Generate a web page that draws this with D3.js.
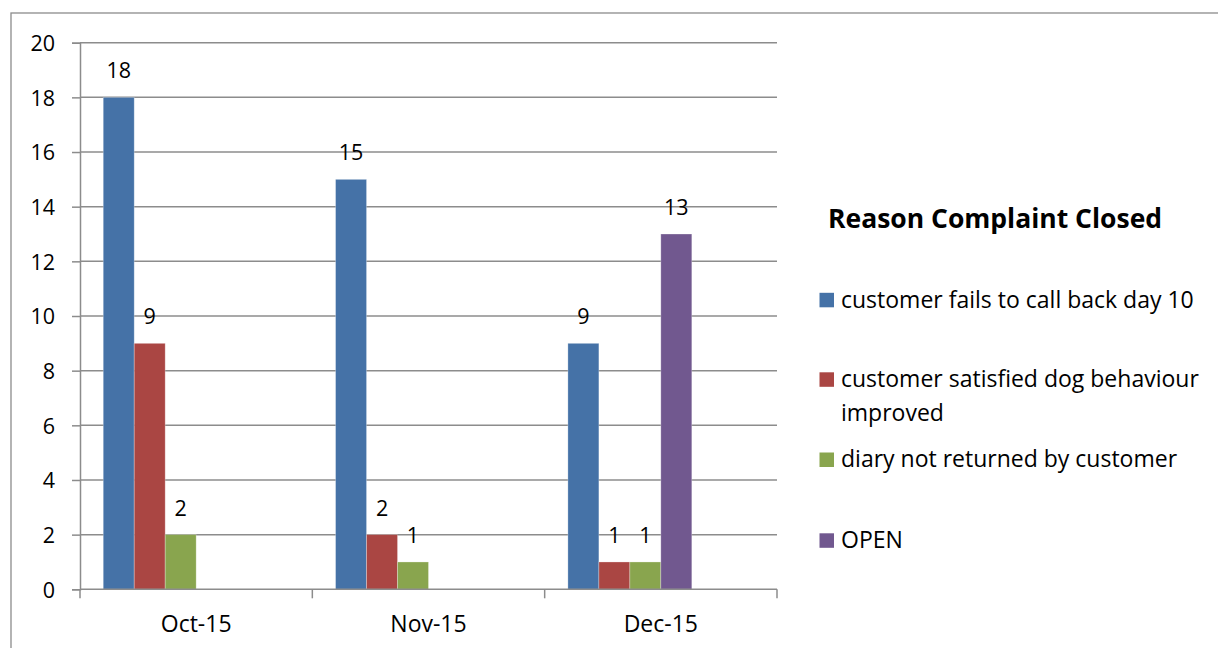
<!DOCTYPE html>
<html><head><meta charset="utf-8">
<script src="https://cdn.jsdelivr.net/npm/d3@7"></script>
<style>body{margin:0;background:#fff}svg{display:block}text{font-family:"Open Sans",sans-serif}</style>
</head><body>
<svg id="c" width="1218" height="648"></svg>
<script>
const categories = ["Oct-15", "Nov-15", "Dec-15"];
const seriesNames = ["customer fails to call back day 10", "customer satisfied dog behaviour improved", "diary not returned by customer", "OPEN"];
const seriesColors = ["#4572A7", "#AA4643", "#89A54E", "#71588F"];
const failsCallBack = [18, 15, 9];
const satisfiedImproved = [9, 2, 1];
const diaryNotReturned = [2, 1, 1];
const openCases = [null, null, 13];
const yTicks = [0, 2, 4, 6, 8, 10, 12, 14, 16, 18, 20];
const legendTitle = "Reason Complaint Closed";

const seriesValues = [failsCallBack, satisfiedImproved, diaryNotReturned, openCases];
const svg = d3.select("#c");
const L = 80, R = 777, T = 42.7, B = 589.3;
const grid = "#8c8c8c";
const FS_NUM = 21.5, FS_TXT = 23;

svg.append("rect").attr("x", 11).attr("y", 13).attr("width", 1240).attr("height", 680)
  .attr("fill", "none").attr("stroke", grid).attr("stroke-width", 1.3);

const y = d3.scaleLinear().domain([0, 20]).range([B, T]);
const x = d3.scaleBand().domain(categories).range([L, R]).padding(0);
const slots = 6;
const xi = d3.scaleBand().domain(d3.range(slots)).range([0, x.bandwidth()]).paddingInner(0).paddingOuter(0.75);

svg.append("g").selectAll("line").data(yTicks.filter(d => d > 0)).join("line")
  .attr("x1", L).attr("x2", R).attr("y1", d => y(d)).attr("y2", d => y(d))
  .attr("stroke", grid).attr("stroke-width", 1.5);

const ya = svg.append("g").attr("transform", `translate(${L},0)`)
  .call(d3.axisLeft(y).tickValues(yTicks).tickSize(8).tickPadding(17).tickFormat(d3.format("d")));
ya.select(".domain").attr("stroke", grid).attr("stroke-width", 1.5);
ya.selectAll(".tick line").attr("stroke", grid).attr("stroke-width", 1.5);
ya.selectAll(".tick text").attr("font-size", FS_NUM).attr("fill", "#000").attr("font-family", "Open Sans").attr("dy", "0.36em");

seriesValues.forEach((vals, si) => {
  const g = svg.append("g");
  const data = categories.map((c, i) => ({c, v: vals[i]})).filter(d => d.v != null);
  g.selectAll("rect").data(data).join("rect")
    .attr("x", d => x(d.c) + xi(si)).attr("width", xi.bandwidth())
    .attr("y", d => y(d.v)).attr("height", d => y(0) - y(d.v))
    .attr("fill", seriesColors[si]).attr("stroke", "#fff").attr("stroke-opacity", 0.35).attr("stroke-width", 0.8);
  g.selectAll("text").data(data).join("text")
    .attr("x", d => x(d.c) + xi(si) + xi.bandwidth() / 2).attr("y", d => y(d.v) - 19)
    .attr("text-anchor", "middle").attr("font-size", FS_NUM).attr("fill", "#000").text(d => d.v);
});

svg.append("line").attr("x1", L).attr("x2", R).attr("y1", B).attr("y2", B).attr("stroke", grid).attr("stroke-width", 1.5);
const bounds = categories.map(c => x(c)).concat([R]);
svg.append("g").selectAll("line").data(bounds).join("line")
  .attr("x1", d => d).attr("x2", d => d).attr("y1", B).attr("y2", B + 9)
  .attr("stroke", grid).attr("stroke-width", 1.5);
svg.append("g").selectAll("text").data(categories).join("text")
  .attr("x", d => x(d) + x.bandwidth() / 2).attr("y", 632).attr("text-anchor", "middle")
  .attr("font-size", FS_TXT).attr("fill", "#000").text(d => d);

svg.append("text").attr("x", 828).attr("y", 228).attr("font-size", 26.5).attr("font-weight", "bold").text(legendTitle);
const legendRows = [
  {lines: ["customer fails to call back day 10"], y: 300},
  {lines: ["customer satisfied dog behaviour", "improved"], y: 379.5},
  {lines: ["diary not returned by customer"], y: 459.7},
  {lines: ["OPEN"], y: 540.5}
];
legendRows.forEach((r, i) => {
  svg.append("rect").attr("x", 819.5).attr("y", r.y - 7.2).attr("width", 14.5).attr("height", 14.5).attr("fill", seriesColors[i]);
  const t = svg.append("text").attr("x", 841).attr("y", r.y + 7.5).attr("font-size", FS_TXT).attr("fill", "#000");
  r.lines.forEach((ln, k) => t.append("tspan").attr("x", 841).attr("dy", k === 0 ? 0 : 34).text(ln));
});
</script>
</body></html>
